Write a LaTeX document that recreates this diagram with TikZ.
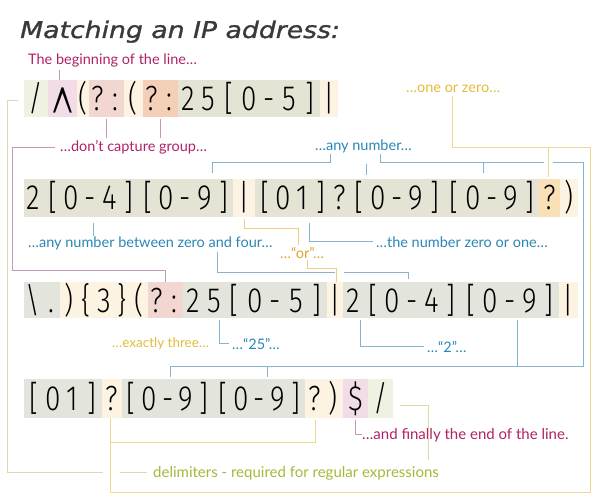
\documentclass[tikz,border=0pt]{standalone}
\usepackage{fontspec}
\setmainfont{Lato}
\newfontfamily\monof{Fira Sans Light}[FakeStretch=0.8]
\newfontfamily\caretf{DejaVu Sans ExtraLight}
\newfontfamily\titlef{DejaVu Sans}[FakeStretch=1.16,FakeBold=1.2]
\usetikzlibrary{backgrounds}
\definecolor{cgreen}{HTML}{EFF1E1}
\definecolor{cpink}{HTML}{F2DCE8}
\definecolor{ccream}{HTML}{FCF3E2}
\definecolor{csalmon}{HTML}{F2D6D0}
\definecolor{corange}{HTML}{F4CFB7}
\definecolor{corangeb}{HTML}{F9E0B6}
\definecolor{ckhaki}{HTML}{E5E3D3}
\definecolor{cgray}{HTML}{E3E5DD}
\definecolor{tmag}{HTML}{B0226A}
\definecolor{tblue}{HTML}{2A87B6}
\definecolor{tgold}{HTML}{E3BC3A}
\definecolor{tor}{HTML}{E0A52A}
\definecolor{tolive}{HTML}{A6B83A}
\definecolor{lmag}{HTML}{C995B8}
\definecolor{lblue}{HTML}{86B3CD}
\definecolor{lgold}{HTML}{F1D68E}
\definecolor{lor}{HTML}{EFCB84}
\definecolor{lolive}{HTML}{D8DCA6}
\definecolor{ttitle}{HTML}{3A3A3A}
\def\segend{segend}
\def\cellloop#1{\ifx#1\segend\else\makebox[\cellw pt]{#1}\expandafter\cellloop\fi}
% name, x0, x1, y0, y1, fill, number of characters, characters
\newcommand\seg[8]{%
  \pgfmathsetmacro\segw{#3-#2}%
  \pgfmathsetmacro\segh{#5-#4}%
  \pgfmathsetmacro\cellw{(#3-#2)/#7}%
  \node[segn, minimum width=\segw pt, minimum height=\segh pt] (#1) at ({(#2+#3)/2},{(#4+#5)/2}) {\cellloop#8\segend};%
  \begin{pgfonlayer}{background}\fill[#6] (#1.south west) rectangle (#1.north east);\end{pgfonlayer}%
}
\begin{document}
\begin{tikzpicture}[x=1pt,y=-1pt,
  segn/.style={inner sep=0pt, outer sep=0pt, font=\monof\fontsize{35}{35}\selectfont, text height=24pt, text depth=0pt, text=black},
  lab/.style={anchor=base west, inner sep=0pt, font=\fontsize{14.5}{16}\selectfont},
  conn/.style={line width=0.9pt},
  magl/.style={conn, draw=lmag},
  bluel/.style={conn, draw=lblue},
  goldl/.style={conn, draw=lgold},
  orl/.style={conn, draw=lor},
  olivl/.style={conn, draw=lolive},
  gap/.style={draw=white, line width=9pt}]
\useasboundingbox (0,0) rectangle (600,500);
\begin{pgfonlayer}{background}\fill[white] (0,0) rectangle (600,500);\end{pgfonlayer}
\node[anchor=base west, inner sep=0pt, font=\titlef\itshape\fontsize{23}{23}\selectfont, text=ttitle] (title) at (20,38) {Matching an IP address:};
% row 1
\seg{r1a}{24}{48}{80}{117}{cgreen}{1}{/}
\seg{r1b}{48}{77}{80}{117}{cpink}{1}{{\caretf\fontsize{32}{32}\selectfont\raisebox{-45pt}{\scalebox{1.0}[2.9]{\textasciicircum}}}}
\seg{r1c}{77}{89}{80}{117}{ccream}{1}{(}
\seg{r1d}{89}{124}{80}{117}{csalmon}{2}{?:}
\seg{r1e}{124}{143}{80}{117}{ccream}{1}{(}
\seg{r1f}{143}{178}{80}{117}{corange}{2}{?:}
\seg{r1g}{178}{320}{80}{117}{ckhaki}{7}{25[0-5]}
\seg{r1h}{320}{338}{80}{117}{ccream}{1}{|}
% row 2
\seg{r2a}{24}{233}{179}{217}{ckhaki}{11}{2[0-4][0-9]}
\seg{r2b}{233}{255}{179}{217}{ccream}{1}{|}
\seg{r2c}{255}{539}{179}{217}{ckhaki}{15}{[01]?[0-9][0-9]}
\seg{r2d}{539}{560}{179}{217}{corangeb}{1}{?}
\seg{r2e}{560}{578}{179}{217}{ccream}{1}{)}
% row 3
\seg{r3a}{24}{60}{282}{318}{cgray}{2}{\textbackslash.}
\seg{r3b}{60}{148}{282}{318}{ccream}{5}{)\{3\}(}
\seg{r3c}{148}{183}{282}{318}{csalmon}{2}{?:}
\seg{r3d}{183}{327}{282}{318}{cgray}{7}{25[0-5]}
\seg{r3e}{327}{343}{282}{318}{ccream}{1}{|}
\seg{r3f}{343}{559}{282}{318}{cgray}{11}{2[0-4][0-9]}
\seg{r3g}{559}{578}{282}{318}{ccream}{1}{|}
% row 4
\seg{r4a}{24}{102}{379}{418}{cgray}{4}{[01]}
\seg{r4b}{102}{122}{379}{418}{ccream}{1}{?}
\seg{r4c}{122}{305}{379}{418}{cgray}{10}{[0-9][0-9]}
\seg{r4d}{305}{343}{379}{418}{ccream}{2}{?)}
\seg{r4e}{343}{368}{379}{418}{cpink}{1}{\$}
\seg{r4f}{368}{393}{379}{418}{cgreen}{1}{/}
% labels
\node[lab, text=tmag] (beg) at (28,65) {The beginning of the line…};
\node[lab, text=tmag] (dcg) at (60,152) {…don’t capture group…};
\node[lab, text=tgold] (ooz) at (406,93) {…one or zero…};
\node[lab, text=tblue] (anyn) at (315,151) {…any number…};
\node[lab, text=tblue] (anb) at (28,247) {…any number between zero and four…};
\node[lab, text=tblue] (tnz) at (376,247) {…the number zero or one…};
\node[lab, text=tor] (orw) at (280,258) {…“or”…};
\node[lab, text=tgold, font=\fontsize{13.5}{16}\selectfont] (ex3) at (112,347) {…exactly three…};
\node[lab, text=tblue] (t25) at (232,349) {…“25”…};
\node[lab, text=tblue] (t2) at (427,352) {…“2”…};
\node[lab, text=tmag, font=\fontsize{15}{16}\selectfont] (endl) at (362,439) {…and finally the end of the line.};
\node[lab, text=tolive, font=\fontsize{15}{16}\selectfont] (del) at (153,477) {delimiters - required for regular expressions};
% magenta connectors
\draw[magl] (beg.south -| 59,0) ++(0,2) -- (r1b.north -| 59,0);
\draw[magl] (r1d.south) ++(0,2) -- ++(0,19);
\draw[magl] (r1f.south) ++(0,2) -- ++(0,19);
\draw[magl] (dcg.west) ++(-5,0) -| (12,270) -| (r3c.north);
\draw[magl] (r4e.south) ++(0,2) |- (endl.west);
% blue connectors
\draw[bluel] (r2a.north -| 212,0) ++(0,-6) |- (330,162) -- (anyn.south -| 330,0);
\draw[bluel] (366,164) -- (366,175);
\draw[bluel] (anyn.south -| 380,0) -- (380,162) -- (583,162) -- (583,366) -- (170,366) -- (170,377);
\draw[bluel] (483,162) -- (483,173);
\draw[bluel] (r3f.south -| 517,0) ++(0,2) -- (517,366);
\draw[bluel] (267,366) -- (267,377);
\draw[bluel] (r2a.south -| 93,0) ++(0,6) -- (anb.north -| 93,0);
\draw[bluel] (anb.south -| 217,0) ++(0,2) |- (408,272) -- (408,279);
\draw[bluel] (r2c.south -| 309,0) ++(0,6) |- ([xshift=-3pt]tnz.west);
\draw[bluel] (r3d.south -| 219,0) ++(0,2) |- ([xshift=-3pt]t25.west);
\draw[bluel] (r3f.south -| 360,0) ++(0,2) |- ([xshift=-3pt]t2.west);
% gaps at crossings
\draw[gap] (548,159) -- (548,165);
\draw[gap] (339,270) -- (339,274);
% gold connectors
\draw[goldl] (ooz.south -| 452,0) ++(0,3) -- (452,147) -- (590,147) -- (590,492) -- (110,492) -- (r4b.south -| 110,0);
\draw[goldl] (548,147) -- (548,177);
\draw[goldl] (r4d.south -| 315,0) ++(0,2) |- (110,442);
% "or" connectors
\draw[orl] (r2b.south) ++(0,2) |- (298,228) -- (298,245);
\draw[orl] (orw.south -| 307,0) ++(0,2) |- (336,268) -- (r3e.north -| 336,0);
% olive connectors
\draw[olivl] (18,100) -- (7,100) -- (7,472) -- (103,472);
\draw[olivl] (120,472) -- (147,472);
\draw[olivl] (400,405) -| (428,460);
\end{tikzpicture}
\end{document}
